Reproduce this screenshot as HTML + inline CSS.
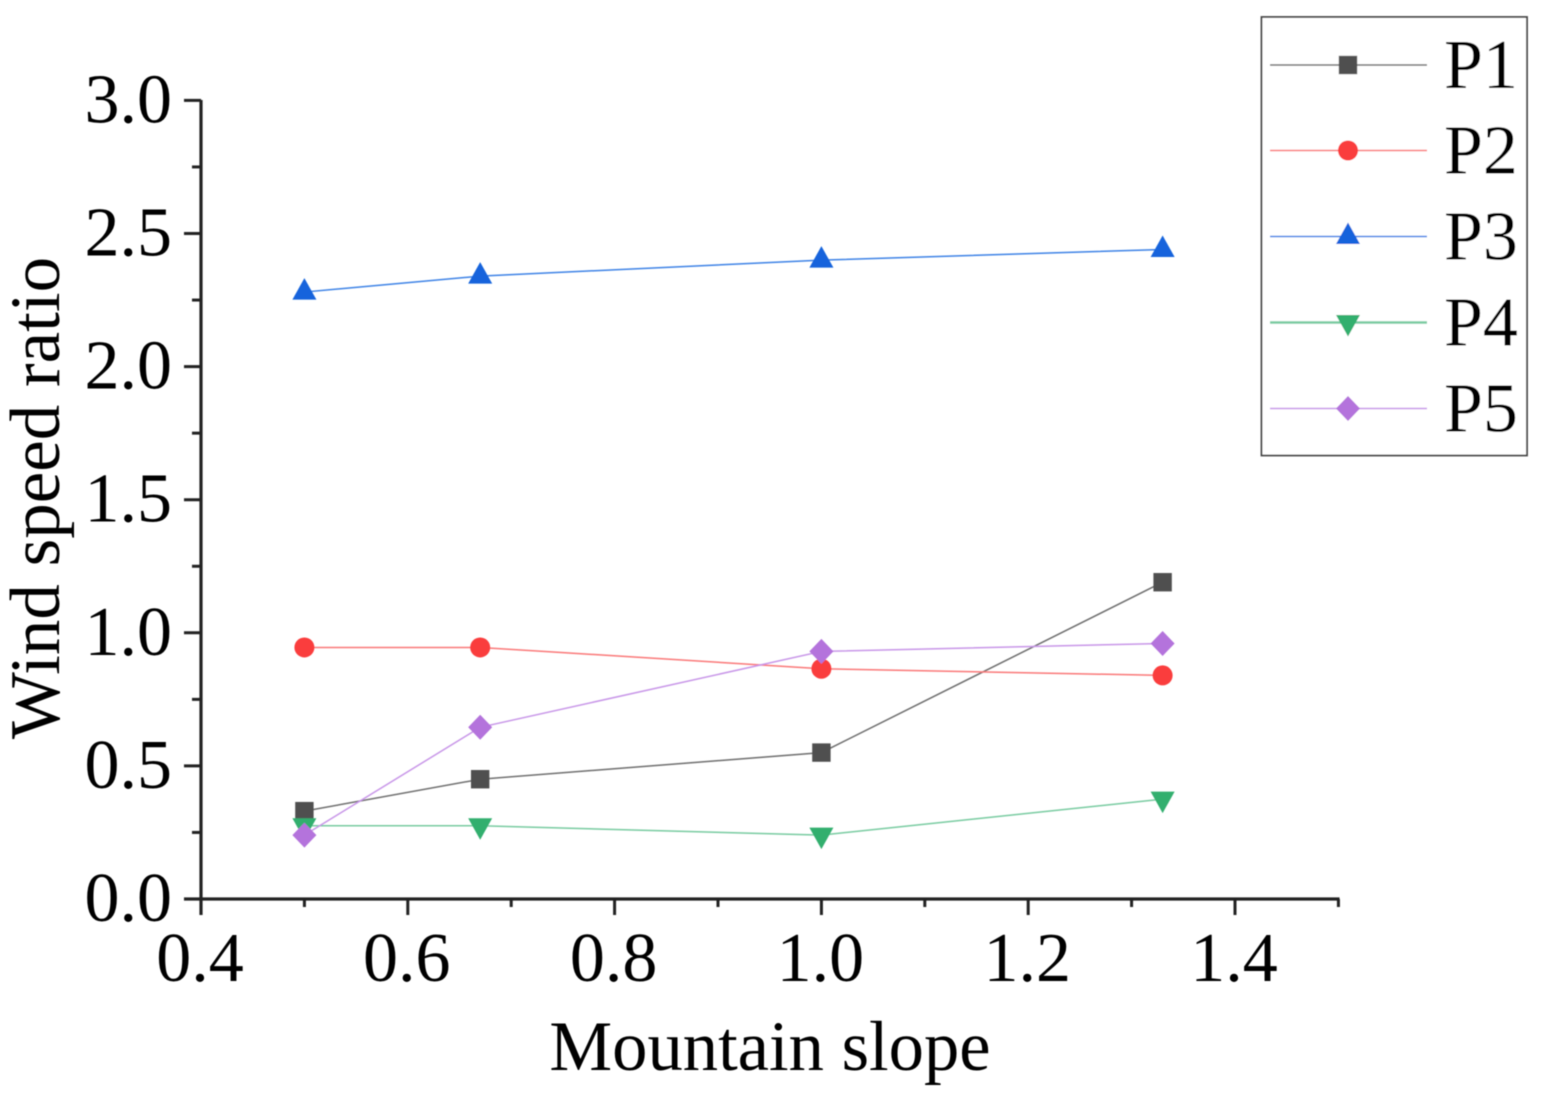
<!DOCTYPE html>
<html>
<head>
<meta charset="utf-8">
<style>
html,body{margin:0;padding:0;background:#fff;width:1549px;height:1098px;overflow:hidden}
svg{display:block}
text{font-family:"Liberation Serif",serif;fill:#000}
</style>
</head>
<body>
<svg id="chart" width="1549" height="1098" viewBox="0 0 1549 1098" xmlns="http://www.w3.org/2000/svg">
<defs><filter id="soft" x="-5%" y="-5%" width="110%" height="110%"><feGaussianBlur stdDeviation="0.45"/></filter></defs>
<g id="root" filter="url(#soft)"></g>
</svg>
<script>
const slopes = [0.5, 0.67, 1.0, 1.33];
const p1 = [0.33, 0.45, 0.55, 1.19];
const p2 = [0.945, 0.945, 0.865, 0.84];
const p3 = [2.28, 2.34, 2.40, 2.44];
const p4 = [0.275, 0.275, 0.24, 0.375];
const p5 = [0.24, 0.645, 0.93, 0.96];
const xTicks = ['0.4', '0.6', '0.8', '1.0', '1.2', '1.4'];
const yTicks = ['0.0', '0.5', '1.0', '1.5', '2.0', '2.5', '3.0'];
const seriesNames = ['P1', 'P2', 'P3', 'P4', 'P5'];

const NS = 'http://www.w3.org/2000/svg';
const root = document.getElementById('root');
const xScale = v => 201 + (v - 0.4) * 1034;
const yScale = v => 899 - v * 266.2;

function make(tag, attrs, text) {
  const el = document.createElementNS(NS, tag);
  for (const k in attrs) el.setAttribute(k, attrs[k]);
  if (text !== undefined) el.textContent = text;
  root.appendChild(el);
  return el;
}
function tri(x, y, up) {
  const s = up ? 1 : -1;
  return (x - 12) + ',' + (y + s * 7.5) + ' ' + (x + 12) + ',' + (y + s * 7.5) + ' ' + x + ',' + (y - s * 14);
}
function marker(kind, x, y, color) {
  let el;
  if (kind === 0) el = make('rect', {x: x - 9.2, y: y - 9.2, width: 18.4, height: 18.4, fill: color});
  if (kind === 1) el = make('circle', {cx: x, cy: y, r: 10, fill: color});
  if (kind === 2) el = make('polygon', {points: tri(x, y, true), fill: color});
  if (kind === 3) el = make('polygon', {points: tri(x, y, false), fill: color});
  if (kind === 4) el = make('polygon', {points: (x - 12) + ',' + y + ' ' + x + ',' + (y - 12.5) + ' ' + (x + 12) + ',' + y + ' ' + x + ',' + (y + 12.5), fill: color});
  return el;
}

// axes
const axisY = make('line', {x1: 201, y1: 100, x2: 201, y2: 915, stroke: '#222', 'stroke-width': 3.2});


const axisX = make('line', {x1: 184, y1: 899, x2: 1339.5, y2: 899, stroke: '#222', 'stroke-width': 3.2});



xTicks.forEach(t => {
  const v = parseFloat(t);
  const x = xScale(v);
  const tick = make('line', {x1: x, y1: 899, x2: x, y2: 915, stroke: '#222', 'stroke-width': 3});
  
  
  const minor = make('line', {x1: xScale(v + 0.1), y1: 899, x2: xScale(v + 0.1), y2: 907, stroke: '#222', 'stroke-width': 3});
  
  
  const label = make('text', {x: x - 1, y: 981, 'font-size': 70, 'text-anchor': 'middle'}, t);
  
  
});

yTicks.forEach((t, i) => {
  const v = parseFloat(t);
  const y = yScale(v);
  const tick = make('line', {x1: 184, y1: y, x2: 201, y2: y, stroke: '#222', 'stroke-width': 3});
  
  
  if (i < yTicks.length - 1) {
    const minor = make('line', {x1: 192, y1: yScale(v + 0.25), x2: 201, y2: yScale(v + 0.25), stroke: '#222', 'stroke-width': 3});
    
    
  }
  const label = make('text', {x: 172, y: y + 22, 'font-size': 70, 'text-anchor': 'end'}, t);
  
  
});

const xTitle = make('text', {x: 770, y: 1070, 'font-size': 70.6, 'text-anchor': 'middle'}, 'Mountain slope');


const yTitle = make('text', {x: 0, y: 0, 'font-size': 71, 'text-anchor': 'middle', transform: 'translate(59,498) rotate(-90)'}, 'Wind speed ratio');



// series
const allSeries = [p1, p2, p3, p4, p5];
const colors = ['#505050', '#fa3c3c', '#1464dc', '#32af6e', '#b473dc'];
const lineColors = ['#6e6e6e', '#fa7878', '#3c82e6', '#78cba0', '#c896e8'];
allSeries.forEach((vals, s) => {
  const pts = vals.map((v, i) => xScale(slopes[i]) + ',' + yScale(v)).join(' ');
  const line = make('polyline', {points: pts, fill: 'none', stroke: lineColors[s], 'stroke-width': 1.5});
  
  
  vals.forEach((v, i) => {
    const m = marker(s, xScale(slopes[i]), yScale(v), colors[s]);
    
    
  });
});

// legend
const box = make('rect', {x: 1261.5, y: 17, width: 265.5, height: 438.5, fill: '#fff', stroke: '#444', 'stroke-width': 1.8});


const legendY = [65, 150.5, 236.5, 322.5, 408.5];
seriesNames.forEach((n, s) => {
  const y = legendY[s];
  const line = make('line', {x1: 1270, y1: y, x2: 1427, y2: y, stroke: lineColors[s], 'stroke-width': s === 3 ? 2.6 : 1.6});
  
  
  const m = marker(s, 1348, y, colors[s]);
  
  
  const label = make('text', {x: 1444, y: y + 23, 'font-size': 70}, n);
  
  
});
</script>
</body>
</html>
